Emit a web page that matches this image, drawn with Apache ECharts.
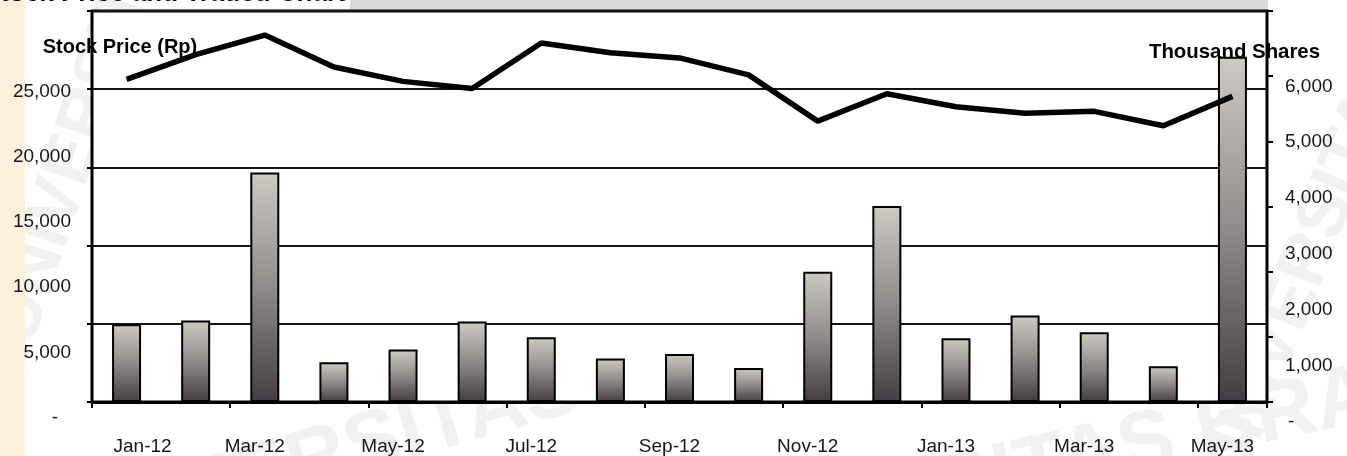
<!DOCTYPE html>
<html>
<head>
<meta charset="utf-8">
<script src="https://cdn.jsdelivr.net/npm/echarts@6/dist/echarts.min.js"></script>
<style>
  html, body { margin: 0; padding: 0; background: #ffffff; }
  #chart { width: 1347px; height: 456px; }
</style>
</head>
<body>
<div id="chart"></div>
<script>
// Monthly closing stock price (Rp) and traded volume (thousand shares)
const months = ['Jan-12', 'Feb-12', 'Mar-12', 'Apr-12', 'May-12', 'Jun-12', 'Jul-12', 'Aug-12',
  'Sep-12', 'Oct-12', 'Nov-12', 'Dec-12', 'Jan-13', 'Feb-13', 'Mar-13', 'Apr-13', 'May-13'];
const stockPrice = [24750, 26650, 28150, 25700, 24600, 24050, 27550, 26800,
  26400, 25100, 21550, 23650, 22650, 22150, 22300, 21200, 23450];
const tradedVolume = [1390, 1460, 4110, 710, 940, 1440, 1160, 780,
  860, 610, 2330, 3510, 1140, 1550, 1250, 640, 6180];

// Axis ranges
const priceRange = { min: 0, max: 30000, step: 5000 };
const volumeRange = { min: 0, max: 7000, step: 1000 };
const gridBands = 5;       // horizontal rules across the plot
const volumeTickBands = 6; // tick marks on the right-hand axis

const chartTitle = 'Stock Price and Traded Chart';
const priceAxisName = 'Stock Price (Rp)';
const volumeAxisName = 'Thousand Shares';
const backdropText = 'UNIVERSITAS BRAWIJAYA';

const FONT = '"Liberation Sans", Arial, sans-serif';
const TEXT = '#161616';

function fmtThousands(v) {
  if (v === 0) return '{dash|-}';
  return String(v).replace(/\B(?=(\d{3})+(?!\d))/g, ',');
}

// faint page backdrop lettering around the plot
function backdrop(x, y, rot, size) {
  return {
    type: 'text', z: -5, x: x, y: y, rotation: rot,
    style: {
      text: backdropText, fill: '#f1f1f1',
      font: 'bold ' + size + 'px ' + FONT
    }
  };
}

const chart = echarts.init(document.getElementById('chart'), null, { renderer: 'canvas' });

chart.setOption({
  animation: false,
  backgroundColor: '#ffffff',
  title: {
    text: chartTitle,
    left: -17,
    top: -19,
    padding: 0,
    textStyle: { fontFamily: FONT, fontSize: 26, fontWeight: 'bold', color: '#000' }
  },
  graphic: [
    backdrop(30, 500, 0.28, 84),
    backdrop(620, 520, 0.22, 84),
    backdrop(1190, 470, 1.2, 70),
    backdrop(-20, 330, 1.25, 70),
    { type: 'rect', z: -4, shape: { x: 0, y: 0, width: 25, height: 456 }, style: { fill: '#fdf0dc' } },
    { type: 'rect', z: -4, shape: { x: 350, y: 0, width: 918, height: 10 }, style: { fill: '#d9d9d9' } }
  ],
  grid: {
    left: 92, right: 80, top: 11, bottom: 52,
    show: true, backgroundColor: '#ffffff', borderColor: '#000', borderWidth: 3
  },
  xAxis: {
    type: 'category',
    data: months,
    boundaryGap: true,
    axisLine: { show: true, lineStyle: { color: '#000', width: 3 } },
    axisTick: { show: true, interval: 1, length: 6, lineStyle: { color: '#000', width: 2 } },
    axisLabel: {
      interval: 1, margin: 35, fontSize: 19, fontFamily: FONT, color: TEXT,
      padding: [0, 20, 0, 0],
      // the first month label sits a little to the right of its column
      formatter: function (v, i) { return i === 0 ? '{first|' + v + '}' : v; },
      rich: { first: { fontSize: 19, fontFamily: FONT, color: TEXT, padding: [0, 0, 0, 52] } }
    },
    splitLine: { show: false }
  },
  yAxis: [
    {
      type: 'value', position: 'left',
      min: priceRange.min, max: priceRange.max, interval: priceRange.step,
      name: priceAxisName, nameLocation: 'end', nameGap: -36,
      nameTextStyle: {
        fontFamily: FONT, fontSize: 20, fontWeight: 'bold', color: '#000',
        align: 'center', verticalAlign: 'middle', padding: [0, 0, 0, 56]
      },
      axisLine: { show: false }, axisTick: { show: false }, splitLine: { show: false },
      axisLabel: {
        showMaxLabel: false, margin: 21, fontSize: 19, fontFamily: FONT, color: TEXT,
        verticalAlign: 'top', padding: [6, 0, 0, 0],
        formatter: fmtThousands,
        rich: { dash: { fontSize: 19, fontFamily: FONT, color: TEXT, padding: [0, 13, 0, 0] } }
      }
    },
    {
      type: 'value', position: 'right',
      min: volumeRange.min, max: volumeRange.max, interval: volumeRange.step,
      name: volumeAxisName, nameLocation: 'end', nameGap: -41,
      nameTextStyle: {
        fontFamily: FONT, fontSize: 20.4, fontWeight: 'bold', color: '#000',
        align: 'center', verticalAlign: 'middle', padding: [0, 65, 0, 0]
      },
      axisLine: { show: false }, axisTick: { show: false }, splitLine: { show: false },
      axisLabel: {
        showMaxLabel: false, margin: 18, fontSize: 19, fontFamily: FONT, color: TEXT,
        verticalAlign: 'top', padding: [10, 0, 0, 0],
        formatter: fmtThousands,
        rich: { dash: { fontSize: 19, fontFamily: FONT, color: TEXT, padding: [0, 0, 0, 3] } }
      }
    },
    {
      // horizontal rules with their outer tick marks on the left
      type: 'value', position: 'left',
      min: 0, max: gridBands, interval: 1,
      axisLine: { show: false }, axisLabel: { show: false },
      axisTick: { show: true, length: 5, lineStyle: { color: '#000', width: 2 } },
      splitLine: { show: true, lineStyle: { color: '#141414', width: 1.8 } }
    },
    {
      // tick marks on the right-hand axis
      type: 'value', position: 'right',
      min: 0, max: volumeTickBands, interval: 1,
      axisLine: { show: false }, axisLabel: { show: false }, splitLine: { show: false },
      axisTick: { show: true, length: 6, lineStyle: { color: '#000', width: 2 } }
    }
  ],
  series: [
    {
      name: 'Traded Volume',
      type: 'bar',
      yAxisIndex: 1,
      data: tradedVolume,
      barWidth: 29,
      z: 2,
      itemStyle: {
        color: new echarts.graphic.LinearGradient(0, 0, 0, 1, [
          { offset: 0, color: '#cdcac3' },
          { offset: 0.5, color: '#908b8a' },
          { offset: 1, color: '#443c42' }
        ]),
        borderColor: '#000',
        borderWidth: 2
      }
    },
    {
      name: 'Stock Price',
      type: 'line',
      yAxisIndex: 0,
      data: stockPrice,
      symbol: 'none',
      z: 3,
      lineStyle: { color: '#000', width: 5.5 }
    }
  ]
});
</script>
</body>
</html>
